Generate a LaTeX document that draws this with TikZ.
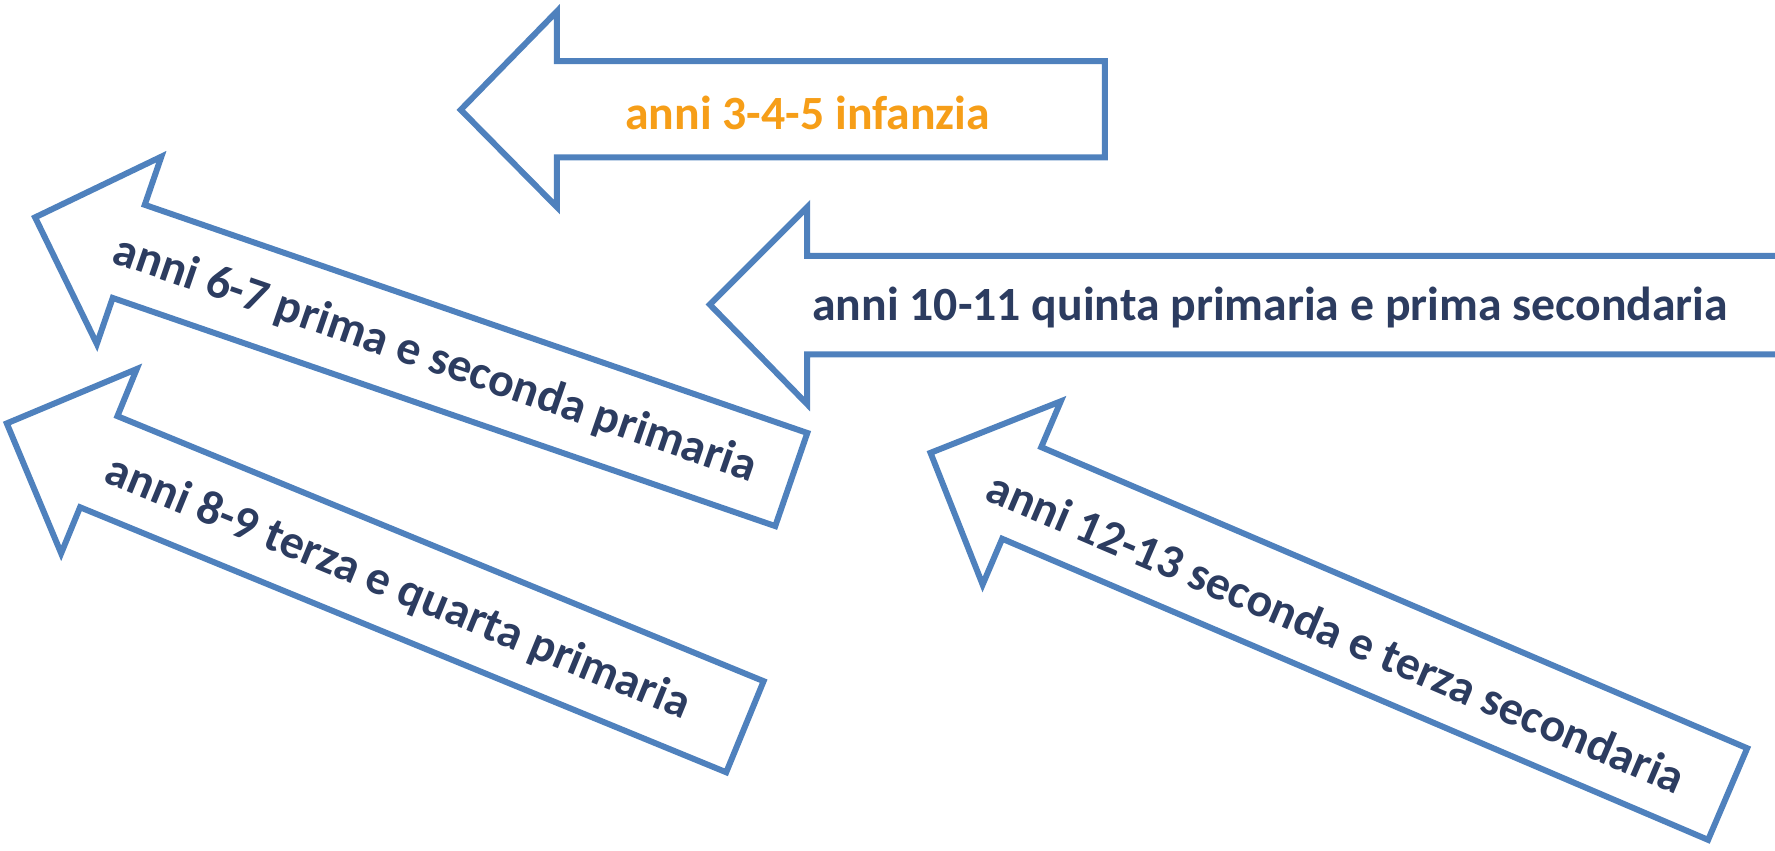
\documentclass[tikz,border=0pt]{standalone}
\usepackage{fontspec}
\setmainfont{Carlito}
\definecolor{arrowblue}{HTML}{4F81BD}
\definecolor{labelnavy}{RGB}{44,60,96}
\definecolor{labelorange}{RGB}{246,158,24}
\tikzset{
  arrowline/.style={draw=arrowblue, line width=3pt, line join=miter},
  lbl/.style={font=\fontsize{24}{28}\selectfont\bfseries, text=labelnavy, inner sep=0pt},
  lblorange/.style={lbl, text=labelorange}
}
\begin{document}
\begin{tikzpicture}[x=0.02cm, y=-0.02cm]
\useasboundingbox (0,0) rectangle (1568,751);

% anni 3-4-5 infanzia
\begin{scope}[shift={(407,97)}]
  \draw[arrowline] (0,0) -- (85,-87) -- (85,-43) -- (569,-43) -- (569,42) -- (85,42) -- (85,86) -- cycle;
  \node[lblorange] (t345) at (306.5,3) {anni 3-4-5 infanzia};
\end{scope}

% anni 10-11 (right end beyond the picture)
\draw[arrowline] (1575,226) -- (713,226) -- (713,183) -- (627,269) -- (713,357) -- (713,313) -- (1575,313);
\node[lbl] (t1011) at (1122,272) {anni 10-11 quinta primaria e prima secondaria};

% anni 6-7
\begin{scope}[shift={(31,192)}, rotate=-19]
  \draw[arrowline] (0,0) -- (88,-87) -- (88,-42) -- (707,-42) -- (707,45) -- (88,45) -- (88,88) -- cycle;
  \node[lbl, rotate=-19] (t67) at (375,4) {anni 6-7 prima e seconda primaria};
\end{scope}

% anni 8-9
\begin{scope}[shift={(6,374)}, rotate=-22.3]
  \draw[arrowline] (0,0) -- (88,-88) -- (88,-43) -- (705,-43) -- (705,44) -- (88,44) -- (88,88) -- cycle;
  \node[lbl, rotate=-22.3] (t89) at (375,4) {anni 8-9 terza e quarta primaria};
\end{scope}

% anni 12-13
\begin{scope}[shift={(822,400)}, rotate=-23.1]
  \draw[arrowline] (0,0) -- (88,-87) -- (88,-43) -- (766,-43) -- (766,45) -- (88,45) -- (88,89) -- cycle;
  \node[lbl, rotate=-23.1] (t1213) at (392,5) {anni 12-13 seconda e terza secondaria};
\end{scope}
\end{tikzpicture}
\end{document}
